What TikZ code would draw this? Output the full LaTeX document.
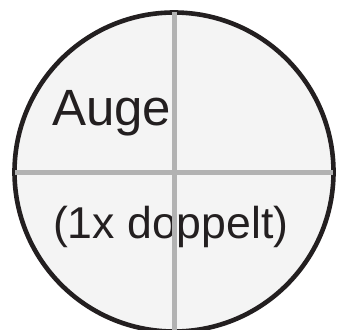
\documentclass[tikz,border=0pt]{standalone}
\usepackage{fontspec}
\setmainfont{Liberation Sans}
\definecolor{ink}{HTML}{231F20}
\definecolor{fillgray}{HTML}{F4F4F4}
\definecolor{linegray}{HTML}{B2B2B2}
\tikzset{
  eyecircle/.style={circle, draw=ink, fill=fillgray, line width=4.6pt, minimum size=319pt, inner sep=0pt, outer sep=0pt},
  crossline/.style={draw=linegray, line width=5pt},
  label/.style={inner sep=0pt, outer sep=0pt, text=ink, anchor=base west}
}
\begin{document}
\begin{tikzpicture}[x=1pt,y=-1pt]
\useasboundingbox (0,0) rectangle (347,329);
\clip (0,0) rectangle (347,329);
\node[eyecircle] (eye) at (174,172) {};
\node[label, font=\fontsize{51}{57}\selectfont] (auge) at (52,125) {Auge};
\node[label, font=\fontsize{44.6}{50}\selectfont] (dop) at (53,238) {(1x doppelt)};
\coordinate (top) at (174.5,12);
\coordinate (bot) at (174.5,340);
\coordinate (lft) at (15,172);
\coordinate (rgt) at (333,172);
\draw[crossline] (top) -- (bot);
\draw[crossline] (lft) -- (rgt);
\end{tikzpicture}
\end{document}
